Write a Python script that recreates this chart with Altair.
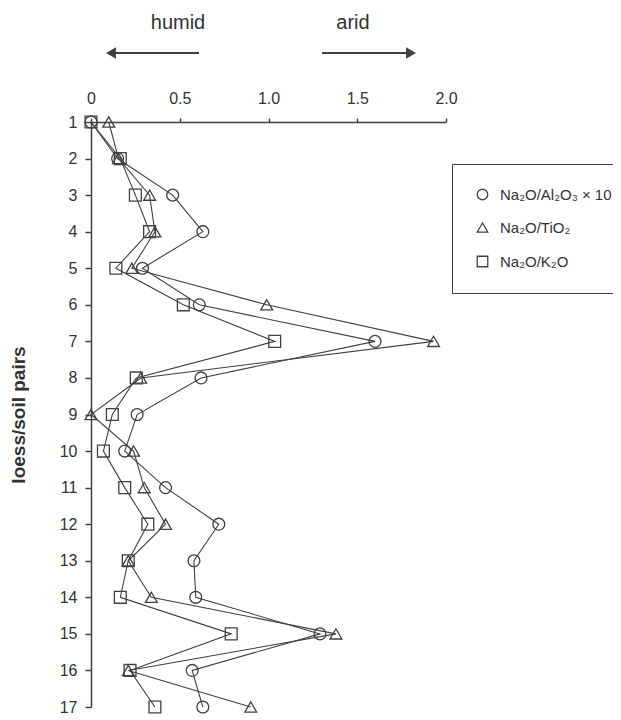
import altair as alt
import pandas as pd

# ---- data ----
pairs = list(range(1, 18))
series_names = ["Na₂O/Al₂O₃ × 10", "Na₂O/TiO₂", "Na₂O/K₂O"]
al2o3_x10 = [0.00, 0.15, 0.46, 0.63, 0.29, 0.61, 1.60, 0.62, 0.26, 0.19, 0.42, 0.72, 0.58, 0.59, 1.29, 0.57, 0.63]
tio2 = [0.10, 0.155, 0.33, 0.36, 0.23, 0.99, 1.93, 0.28, 0.00, 0.24, 0.30, 0.42, 0.21, 0.34, 1.38, 0.21, 0.90]
k2o = [0.00, 0.165, 0.25, 0.33, 0.14, 0.52, 1.035, 0.255, 0.12, 0.07, 0.19, 0.32, 0.21, 0.165, 0.79, 0.22, 0.36]
x_ticks = [0, 0.5, 1.0, 1.5, 2.0]
climate_labels = ["humid", "arid"]

rows = []
for name, vals in zip(series_names, [al2o3_x10, tio2, k2o]):
    for p, v in zip(pairs, vals):
        rows.append({"series": name, "pair": p, "value": v})
df = pd.DataFrame(rows)

C = "#404040"
T = "#333333"
F = "Liberation Sans"
PLOT_H = 585

x_enc = alt.X(
    "value:Q",
    scale=alt.Scale(domain=[0, 2], nice=False, zero=False),
    axis=alt.Axis(
        orient="top", values=x_ticks, title=None, grid=False,
        labelExpr="datum.value == 0 ? '0' : format(datum.value, '.1f')",
        tickSize=4, labelPadding=12, labelFontSize=16, labelFont=F,
        labelColor=T, domainColor=C, tickColor=C, domainWidth=1.5, tickWidth=1.5,
        labelFlush=False,
    ),
)
y_enc = alt.Y(
    "pair:Q",
    scale=alt.Scale(domain=[1, 17], reverse=True, nice=False, zero=False),
    axis=alt.Axis(
        values=pairs, format="d", grid=False,
        title="loess/soil pairs", titleFontSize=19, titleFontWeight="bold",
        titleFont=F, titleColor=T, titleAngle=-90, titleX=-73, titleY=PLOT_H / 2,
        titleAlign="center", titleBaseline="middle",
        tickSize=6, labelPadding=8, labelFontSize=16, labelFont=F,
        labelColor=T, domainColor=C, tickColor=C, domainWidth=1.5, tickWidth=1.5,
    ),
)

lines = alt.Chart(df).mark_line(color=C, strokeWidth=1.1).encode(
    x=x_enc, y=y_enc, detail="series:N", order="pair:Q"
)

points = alt.Chart(df).mark_point(
    filled=False, color=C, strokeWidth=1.3, opacity=1, size=140
).encode(
    x=x_enc,
    y=y_enc,
    shape=alt.Shape(
        "series:N",
        scale=alt.Scale(domain=series_names, range=["circle", "triangle-up", "square"]),
        sort=series_names,
        legend=alt.Legend(
            title=None, orient="none", legendX=361, legendY=42,
            padding=23, rowPadding=17, labelFontSize=15, labelFont=F,
            labelColor=T, symbolSize=110, symbolStrokeColor=C,
            symbolStrokeWidth=1.3, strokeColor=C, fillColor="white",
            labelOffset=10, labelLimit=400,
        ),
    ),
)

one = pd.DataFrame({"k": [0]})
arrow_y = -69
left_shaft = alt.Chart(one).mark_rule(color=C, strokeWidth=2).encode(
    x=alt.value(20), x2=alt.value(108), y=alt.value(arrow_y)
)
left_head = alt.Chart(one).mark_point(shape="triangle-left", filled=True, color=C, size=130, opacity=1).encode(
    x=alt.value(20), y=alt.value(arrow_y)
)
right_shaft = alt.Chart(one).mark_rule(color=C, strokeWidth=2).encode(
    x=alt.value(231), x2=alt.value(320), y=alt.value(arrow_y)
)
right_head = alt.Chart(one).mark_point(shape="triangle-right", filled=True, color=C, size=130, opacity=1).encode(
    x=alt.value(320), y=alt.value(arrow_y)
)
humid_txt = alt.Chart(one).mark_text(
    text=climate_labels[0], font=F, fontSize=20, color=T, baseline="middle", align="center"
).encode(x=alt.value(87), y=alt.value(-99))
arid_txt = alt.Chart(one).mark_text(
    text=climate_labels[1], font=F, fontSize=20, color=T, baseline="middle", align="center"
).encode(x=alt.value(262), y=alt.value(-99))

chart = alt.layer(
    lines, points, left_shaft, left_head, right_shaft, right_head, humid_txt, arid_txt
).properties(
    width=355,
    height=PLOT_H,
    background="white",
    autosize=alt.AutoSizeParams(type="none"),
    padding={"left": 83, "top": 114, "right": 167, "bottom": 7},
).configure_view(stroke=None)

chart.save("out.html", embed_options={"renderer": "svg", "actions": False})
